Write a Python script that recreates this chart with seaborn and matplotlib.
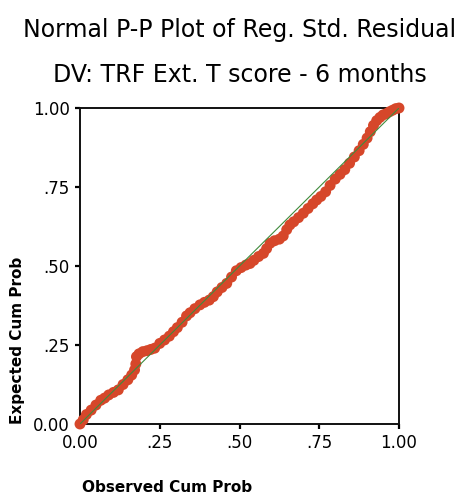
import matplotlib
matplotlib.use("Agg")
import matplotlib.pyplot as plt
import seaborn as sns
import pandas as pd

observed = [0.00, 0.01, 0.02, 0.035, 0.05, 0.065, 0.077, 0.09, 0.105, 0.12,
            0.135, 0.15, 0.162, 0.171, 0.175, 0.177, 0.185, 0.197, 0.21, 0.222,
            0.234, 0.25, 0.265, 0.28, 0.293, 0.305, 0.32, 0.334, 0.345, 0.36,
            0.376, 0.39, 0.405, 0.418, 0.43, 0.445, 0.46, 0.475, 0.49, 0.505,
            0.52, 0.533, 0.545, 0.56, 0.575, 0.585, 0.596, 0.61, 0.625, 0.637,
            0.648, 0.658, 0.67, 0.685, 0.70, 0.715, 0.73, 0.742, 0.755, 0.77,
            0.784, 0.80, 0.815, 0.83, 0.845, 0.86, 0.875, 0.888, 0.90, 0.91,
            0.92, 0.93, 0.94, 0.95, 0.96, 0.97, 0.98, 0.99, 1.00]
expected = [0.00, 0.013, 0.03, 0.044, 0.06, 0.075, 0.082, 0.092, 0.10, 0.108,
            0.125, 0.14, 0.155, 0.171, 0.19, 0.213, 0.222, 0.229, 0.232, 0.236,
            0.24, 0.255, 0.266, 0.278, 0.292, 0.305, 0.322, 0.342, 0.352, 0.365,
            0.377, 0.385, 0.392, 0.403, 0.418, 0.432, 0.445, 0.465, 0.485, 0.495,
            0.503, 0.508, 0.518, 0.53, 0.54, 0.555, 0.572, 0.58, 0.585, 0.595,
            0.615, 0.63, 0.64, 0.653, 0.667, 0.682, 0.697, 0.709, 0.72, 0.735,
            0.755, 0.775, 0.79, 0.805, 0.825, 0.845, 0.865, 0.885, 0.905, 0.925,
            0.945, 0.96, 0.97, 0.978, 0.982, 0.988, 0.993, 0.998, 1.00]
ref_line = [0.0, 1.0]

tick_vals = [0.0, 0.25, 0.5, 0.75, 1.0]
x_tick_labels = ["0.00", ".25", ".50", ".75", "1.00"]
y_tick_labels = ["0.00", ".25", ".50", ".75", "1.00"]

title_1 = "Normal P-P Plot of Reg. Std. Residual"
title_2 = "DV: TRF Ext. T score - 6 months"
x_label = "Observed Cum Prob"
y_label = "Expected Cum Prob"

sns.set_style("white")
plt.rcParams["font.family"] = ["DejaVu Sans"]
plt.rcParams["text.color"] = "black"

W, H = 472, 499
fig = plt.figure(figsize=(W / 100, H / 100), dpi=100)
ax = fig.add_axes([80 / W, 1 - 424 / H, 319 / W, 316 / H])

df = pd.DataFrame({"obs": observed, "exp": expected})
sns.scatterplot(data=df, x="obs", y="exp", ax=ax, s=62, color="#d6472a",
                edgecolor="none", linewidth=0, clip_on=False, zorder=3)
sns.lineplot(x=ref_line, y=ref_line, ax=ax, color="#3f8a3c", linewidth=0.8,
             zorder=4)

ax.set_xlim(0, 1)
ax.set_ylim(0, 1)
ax.set_xticks(tick_vals)
ax.set_xticklabels(x_tick_labels)
ax.set_yticks(tick_vals)
ax.set_yticklabels(y_tick_labels)
ax.tick_params(axis="both", which="major", direction="out", length=3.5,
               width=1.6, color="black", labelsize=12, pad=4,
               bottom=True, left=True, labelcolor="black")
ax.set_xlabel("")
ax.set_ylabel("")

for sp in ax.spines.values():
    sp.set_visible(True)
    sp.set_color("#111111")
    sp.set_linewidth(1.4)

fig.text(82 / W, 1 - 487 / H, x_label, ha="left", va="center",
         fontsize=11, fontweight="bold")
fig.text(18 / W, 1 - 424 / H, y_label, ha="center", va="bottom",
         rotation=90, fontsize=11, fontweight="bold")

cx = (80 + 319 / 2) / W
fig.text(cx, 1 - 30 / H, title_1, ha="center", va="center", fontsize=17)
fig.text(cx, 1 - 75 / H, title_2, ha="center", va="center", fontsize=17)

fig.savefig("out.png", dpi=100, facecolor="white")
